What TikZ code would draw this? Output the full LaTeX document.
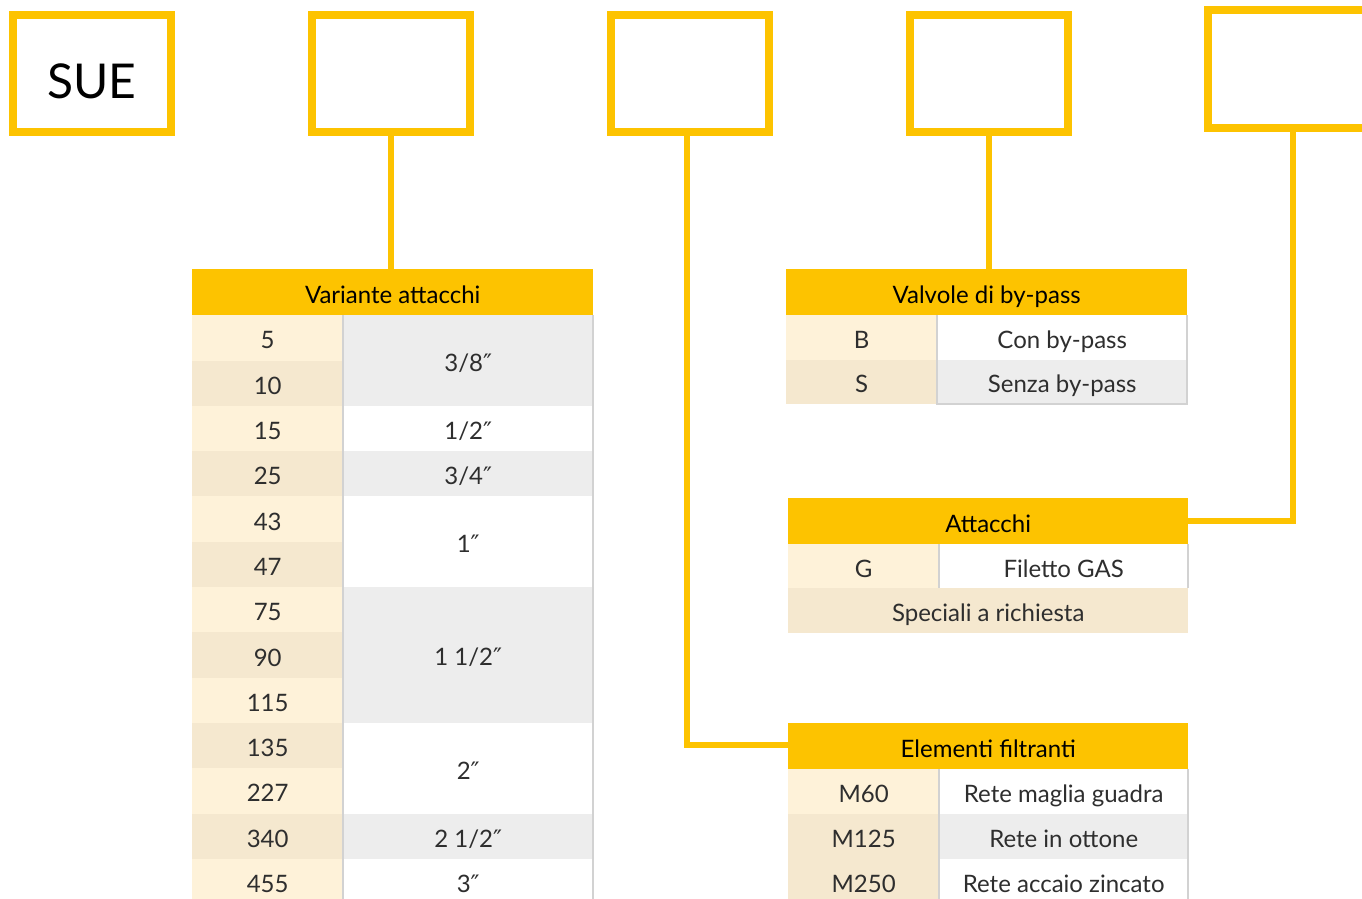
\documentclass[tikz,border=0pt]{standalone}
\usepackage{fontspec}
\setmainfont{Lato}
\newfontfamily\primefont{DejaVu Sans}
\usetikzlibrary{positioning}
\definecolor{gold}{HTML}{FDC300}
\definecolor{creamA}{HTML}{FEF2D9}
\definecolor{creamB}{HTML}{F5E8CF}
\definecolor{greycell}{HTML}{EDEDED}
\definecolor{rulegrey}{HTML}{D2D2D2}
\definecolor{ink}{HTML}{2E2E2E}
\newcommand{\inch}{{\primefont\char"2033}}
\begin{document}
\begin{tikzpicture}[x=1pt, y=-1pt,
     codebox/.style = {draw=gold, line width=8pt, minimum width=158pt,
                       minimum height=117pt, inner sep=0pt},
        link/.style = {draw=gold, line width=6.5pt},
    headcell/.style = {fill=gold, inner sep=0pt, anchor=north west,
                       minimum height=46pt, text=black,
                       text height=22pt, text depth=0pt,
                       font=\fontsize{24}{28}\selectfont},
        cell/.style = {inner sep=0pt, anchor=north west, text=ink,
                       text height=22pt, text depth=0pt,
                       font=\fontsize{24}{28}\selectfont},
       frame/.style = {draw=rulegrey, line width=1.3pt}
                    ]
\useasboundingbox (0,0) rectangle (1362,899);
\clip (0,0) rectangle (1362,899);
\fill[white] (0,0) rectangle (1362,899);
% code boxes
    \node[codebox] (b1) at (92,73.5)  {};
    \node[codebox] (b2) at (391,73.5) {};
    \node[codebox] (b3) at (690,73.5) {};
    \node[codebox] (b4) at (989,73.5) {};
    \node[codebox, minimum height=118pt] (b5) at (1287,69) {};
    \node[font=\fontsize{48}{52}\selectfont, inner sep=0pt] (sue) at ([yshift=-8pt]b1.center) {SUE};
% variante attacchi
    \node[headcell, minimum width=401pt] (va) at (192,269) {Variante attacchi};
    \foreach \v/\c [count=\i from 0] in {5/creamA,10/creamB,15/creamA,25/creamB,
        43/creamA,47/creamB,75/creamA,90/creamB,115/creamA,135/creamB,
        227/creamA,340/creamB,455/creamA}
      \node[cell, fill=\c, minimum width=151pt, minimum height=45.4pt]
        (va-\i) at (192,{315+\i*45.3}) {\v};
    \foreach \r/\n/\t/\c [count=\j] in {0/2/{3/8\inch}/greycell,2/1/{1/2\inch}/white,
        3/1/{3/4\inch}/greycell,4/2/{1\inch}/white,6/3/{1 1/2\inch}/greycell,
        9/2/{2\inch}/white,11/1/{2 1/2\inch}/greycell,12/1/{3\inch}/white}
      \node[cell, fill=\c, minimum width=250pt, minimum height={\n*45.3pt}]
        (vs-\j) at (343,{315+\r*45.3}) {\t};
    \draw[frame] (343,315) -- (343,899) (593,315) -- (593,899);
% valvole di by-pass
    \node[headcell, minimum width=401pt] (vb) at (786,269) {Valvole di by-pass};
    \node[cell, fill=creamA, minimum width=151pt, minimum height=44.5pt] (vb-b) at (786,315) {B};
    \node[cell, fill=white, minimum width=250pt, minimum height=44.5pt] (vb-bt) at (937,315) {Con by-pass};
    \node[cell, fill=creamB, minimum width=151pt, minimum height=44.5pt] (vb-s) at (786,359.5) {S};
    \node[cell, fill=greycell, minimum width=250pt, minimum height=44.5pt] (vb-st) at (937,359.5) {Senza by-pass};
    \draw[frame] (937,315) -- (937,404) -- (1187,404) -- (1187,315);
% attacchi
    \node[headcell, minimum width=400pt] (att) at (788,498) {Attacchi};
    \node[cell, fill=creamA, minimum width=151pt, minimum height=44pt] (att-g) at (788,544) {G};
    \node[cell, fill=white, minimum width=249pt, minimum height=44pt] (att-gt) at (939,544) {Filetto GAS};
    \node[cell, fill=creamB, minimum width=400pt, minimum height=45pt] (att-sp) at (788,588) {Speciali a richiesta};
    \draw[frame] (939,544) -- (939,588) (1188,544) -- (1188,588);
% elementi filtranti
    \node[headcell, minimum width=400pt] (ef) at (788,723) {Elementi filtranti};
    \foreach \k/\t/\a/\b [count=\i from 0] in {M60/Rete maglia guadra/creamA/white,
        M125/Rete in ottone/creamB/greycell,M250/Rete accaio zincato/creamB/white} {
      \node[cell, fill=\a, minimum width=151pt, minimum height=45.2pt] (ef-\i) at (788,{769+\i*45}) {\k};
      \node[cell, fill=\b, minimum width=249pt, minimum height=45.2pt] (eft-\i) at (939,{769+\i*45}) {\t};
    }
    \draw[frame] (939,769) -- (939,899) (1188,769) -- (1188,899);
% links
    \coordinate (c3) at (687,745);
    \coordinate (c5) at (1293,521);
    \draw[link] (b2.south) -- (b2.south |- va.north);
    \draw[link] (b4.south) -- (b4.south |- vb.north);
    \draw[link] (b3.south -| c3) -- (c3) -- (c3 -| ef.west);
    \draw[link] (b5.south -| c5) -- (c5) -- (c5 -| att.east);
\end{tikzpicture}
\end{document}
